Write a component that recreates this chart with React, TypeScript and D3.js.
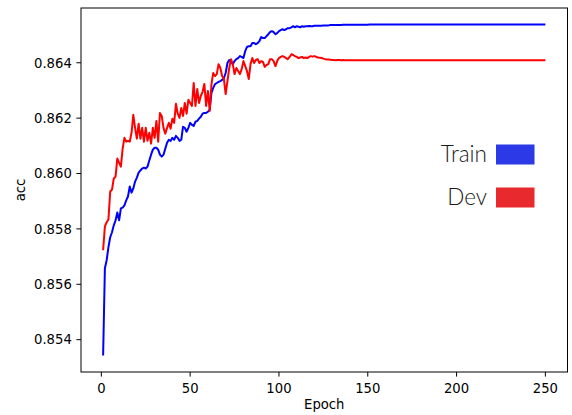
import React from "react";
import * as d3 from "d3";

const trainAcc: number[] = [
  0.85343, 0.85658, 0.85687, 0.85734, 0.85770, 0.85788, 0.85813, 0.85831, 0.85859, 0.85831,
  0.85874, 0.85877, 0.85885, 0.85903, 0.85917, 0.85953, 0.85931, 0.85946, 0.85971, 0.85985,
  0.86003, 0.86011, 0.86018, 0.86021, 0.86018, 0.86025, 0.86047, 0.86068, 0.86086, 0.86093,
  0.86093, 0.86086, 0.86068, 0.86061, 0.86068, 0.86090, 0.86111, 0.86122, 0.86118, 0.86129,
  0.86122, 0.86136, 0.86129, 0.86118, 0.86122, 0.86169, 0.86165, 0.86151, 0.86165, 0.86183,
  0.86176, 0.86172, 0.86187, 0.86190, 0.86198, 0.86205, 0.86216, 0.86219, 0.86219, 0.86223,
  0.86230, 0.86291, 0.86309, 0.86323, 0.86327, 0.86331, 0.86334, 0.86338, 0.86345, 0.86363,
  0.86399, 0.86410, 0.86403, 0.86395, 0.86406, 0.86413, 0.86417, 0.86424, 0.86421, 0.86417,
  0.86442, 0.86457, 0.86460, 0.86460, 0.86471, 0.86471, 0.86467, 0.86471, 0.86478, 0.86493,
  0.86489, 0.86489, 0.86496, 0.86503, 0.86511, 0.86514, 0.86511, 0.86503, 0.86507, 0.86514,
  0.86518, 0.86521, 0.86518, 0.86521, 0.86525, 0.86525, 0.86528, 0.86532, 0.86528, 0.86532,
  0.86530, 0.86528, 0.86532, 0.86530, 0.86532, 0.86532, 0.86533, 0.86532, 0.86532, 0.86534,
  0.86534, 0.86534, 0.86534, 0.86534, 0.86535, 0.86535, 0.86535, 0.86535, 0.86536, 0.86536,
  0.86536, 0.86536, 0.86536, 0.86536, 0.86536, 0.86537, 0.86537, 0.86537, 0.86537, 0.86537,
  0.86537, 0.86537, 0.86537, 0.86537, 0.86537, 0.86537, 0.86537, 0.86537, 0.86537, 0.86537,
  0.86538, 0.86538, 0.86538, 0.86538, 0.86538, 0.86538, 0.86538, 0.86538, 0.86538, 0.86538,
  0.86538, 0.86538, 0.86538, 0.86538, 0.86538, 0.86538, 0.86538, 0.86538, 0.86538, 0.86538,
  0.86538, 0.86538, 0.86538, 0.86538, 0.86538, 0.86538, 0.86538, 0.86538, 0.86538, 0.86538,
  0.86538, 0.86538, 0.86538, 0.86538, 0.86538, 0.86538, 0.86538, 0.86538, 0.86538, 0.86538,
  0.86538, 0.86538, 0.86538, 0.86538, 0.86538, 0.86538, 0.86538, 0.86538, 0.86538, 0.86538,
  0.86538, 0.86538, 0.86538, 0.86538, 0.86538, 0.86538, 0.86538, 0.86538, 0.86538, 0.86538,
  0.86538, 0.86538, 0.86538, 0.86538, 0.86538, 0.86538, 0.86538, 0.86538, 0.86538, 0.86538,
  0.86538, 0.86538, 0.86538, 0.86538, 0.86538, 0.86538, 0.86538, 0.86538, 0.86538, 0.86538,
  0.86538, 0.86538, 0.86538, 0.86538, 0.86538, 0.86538, 0.86538, 0.86538, 0.86538, 0.86538,
  0.86538, 0.86538, 0.86538, 0.86538, 0.86538, 0.86538, 0.86538, 0.86538, 0.86538, 0.86538,
];

const devAcc: number[] = [
  0.85723, 0.85809, 0.85824, 0.85834, 0.85935, 0.85942, 0.85982, 0.85989, 0.86054, 0.86039,
  0.86025, 0.86090, 0.86129, 0.86115, 0.86118, 0.86115, 0.86147, 0.86212, 0.86165, 0.86126,
  0.86180, 0.86126, 0.86165, 0.86115, 0.86165, 0.86118, 0.86147, 0.86108, 0.86165, 0.86129,
  0.86190, 0.86115, 0.86219, 0.86208, 0.86165, 0.86144, 0.86165, 0.86183, 0.86162, 0.86198,
  0.86183, 0.86252, 0.86216, 0.86201, 0.86237, 0.86208, 0.86255, 0.86216, 0.86266, 0.86255,
  0.86244, 0.86327, 0.86244, 0.86305, 0.86255, 0.86280, 0.86295, 0.86323, 0.86244, 0.86298,
  0.86226, 0.86323, 0.86363, 0.86352, 0.86359, 0.86395, 0.86381, 0.86352, 0.86341, 0.86287,
  0.86334, 0.86381, 0.86413, 0.86395, 0.86359, 0.86381, 0.86370, 0.86359, 0.86377, 0.86406,
  0.86388, 0.86370, 0.86341, 0.86395, 0.86417, 0.86399, 0.86410, 0.86413, 0.86399, 0.86406,
  0.86403, 0.86385, 0.86392, 0.86395, 0.86413, 0.86413, 0.86406, 0.86388, 0.86406, 0.86417,
  0.86421, 0.86424, 0.86421, 0.86417, 0.86413, 0.86421, 0.86431, 0.86428, 0.86424, 0.86421,
  0.86417, 0.86419, 0.86421, 0.86417, 0.86419, 0.86417, 0.86421, 0.86424, 0.86422, 0.86424,
  0.86421, 0.86419, 0.86418, 0.86417, 0.86415, 0.86413, 0.86412, 0.86412, 0.86411, 0.86410,
  0.86410, 0.86409, 0.86410, 0.86410, 0.86409, 0.86410, 0.86409, 0.86409, 0.86409, 0.86409,
  0.86409, 0.86409, 0.86409, 0.86409, 0.86409, 0.86409, 0.86409, 0.86409, 0.86409, 0.86409,
  0.86409, 0.86409, 0.86409, 0.86409, 0.86409, 0.86409, 0.86409, 0.86409, 0.86409, 0.86409,
  0.86409, 0.86409, 0.86409, 0.86409, 0.86409, 0.86409, 0.86409, 0.86409, 0.86409, 0.86409,
  0.86409, 0.86409, 0.86409, 0.86409, 0.86409, 0.86409, 0.86409, 0.86409, 0.86409, 0.86409,
  0.86409, 0.86409, 0.86409, 0.86409, 0.86409, 0.86409, 0.86409, 0.86409, 0.86409, 0.86409,
  0.86409, 0.86409, 0.86409, 0.86409, 0.86409, 0.86409, 0.86409, 0.86409, 0.86409, 0.86409,
  0.86409, 0.86409, 0.86409, 0.86409, 0.86409, 0.86409, 0.86409, 0.86409, 0.86409, 0.86409,
  0.86409, 0.86409, 0.86409, 0.86409, 0.86409, 0.86409, 0.86409, 0.86409, 0.86409, 0.86409,
  0.86409, 0.86409, 0.86409, 0.86409, 0.86409, 0.86409, 0.86409, 0.86409, 0.86409, 0.86409,
  0.86409, 0.86409, 0.86409, 0.86409, 0.86409, 0.86409, 0.86409, 0.86409, 0.86409, 0.86409,
  0.86409, 0.86409, 0.86409, 0.86409, 0.86409, 0.86409, 0.86409, 0.86409, 0.86409, 0.86409,
];

const xTicks: number[] = [0, 50, 100, 150, 200, 250];
const yTicks: number[] = [0.854, 0.856, 0.858, 0.86, 0.862, 0.864];
const legendLabels: string[] = ["Train", "Dev"];
const legendColors: string[] = ["#2b3ae6", "#e8292e"];

const W = 572;
const H = 415;
const M = { left: 81, right: 567.5, top: 8, bottom: 372 };

export default function App() {
  const epochs = trainAcc.map((_, i) => i + 1);
  const xMin = 1, xMax = trainAcc.length;
  const xPad = (xMax - xMin) * 0.05;
  const x = d3.scaleLinear().domain([xMin - xPad, xMax + xPad]).range([M.left, M.right]);
  const all = trainAcc.concat(devAcc);
  const yLo = d3.min(all)!, yHi = d3.max(all)!;
  const yPad = (yHi - yLo) * 0.05;
  const y = d3.scaleLinear().domain([yLo - yPad, yHi + yPad]).range([M.bottom, M.top]);

  const line = d3
    .line<number>()
    .x((_, i) => x(epochs[i]))
    .y((d) => y(d));

  const tickFont = "DejaVu Sans, sans-serif";
  const fs = 13.2;
  const tl = 4.6;

  return (
    <svg width={W} height={H} style={{ position: "absolute", left: 0, top: 0, background: "#fff" }}>
      <rect x={0} y={0} width={W} height={H} fill="#fff" />
      <path d={line(trainAcc) || ""} fill="none" stroke="#0000ff" strokeWidth={2} strokeLinejoin="round" />
      <path d={line(devAcc) || ""} fill="none" stroke="#ff0000" strokeWidth={2} strokeLinejoin="round" />
      <rect
        x={M.left}
        y={M.top}
        width={M.right - M.left}
        height={M.bottom - M.top}
        fill="none"
        stroke="#000"
        strokeWidth={1}
      />
      {xTicks.map((t) => (
        <g key={"x" + t}>
          <line x1={x(t)} x2={x(t)} y1={M.bottom} y2={M.bottom + tl} stroke="#000" strokeWidth={1} />
          <text x={x(t)} y={M.bottom + 20.5} textAnchor="middle" fontFamily={tickFont} fontSize={fs} fill="#000">
            {t}
          </text>
        </g>
      ))}
      {yTicks.map((t) => (
        <g key={"y" + t}>
          <line x1={M.left - tl} x2={M.left} y1={y(t)} y2={y(t)} stroke="#000" strokeWidth={1} />
          <text
            x={M.left - tl - 4.6}
            y={y(t)}
            dy="0.36em"
            textAnchor="end"
            fontFamily={tickFont}
            fontSize={fs}
            fill="#000"
          >
            {t.toFixed(3)}
          </text>
        </g>
      ))}
      <text x={(M.left + M.right) / 2} y={409} textAnchor="middle" fontFamily={tickFont} fontSize={fs} fill="#000">
        Epoch
      </text>
      <text
        transform={`translate(24.5, ${(M.top + M.bottom) / 2}) rotate(-90)`}
        textAnchor="middle"
        fontFamily={tickFont}
        fontSize={fs}
        fill="#000"
      >
        acc
      </text>
      {legendLabels.map((lab, i) => (
        <g key={lab}>
          <text
            x={487}
            y={161.7 + i * 43}
            textAnchor="end"
            fontFamily="Lato, sans-serif"
            fontWeight={300}
            fontSize={22.5}
            fill="#1a1a1a"
          >
            {lab}
          </text>
          <rect x={496} y={144.5 + i * 43} width={38.5} height={20} fill={legendColors[i]} />
        </g>
      ))}
    </svg>
  );
}
